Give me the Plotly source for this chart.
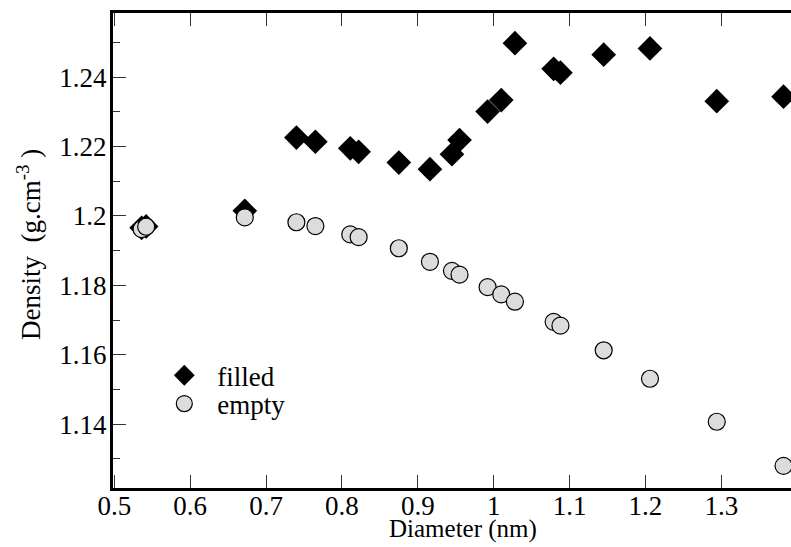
import plotly.graph_objects as go

# Data
diameter = [0.536, 0.542, 0.672, 0.740, 0.765, 0.811, 0.822, 0.875, 0.916, 0.945,
            0.955, 0.992, 1.010, 1.028, 1.079, 1.088, 1.145, 1.206, 1.294, 1.382]
density_filled = [1.1966, 1.1970, 1.2015, 1.2226, 1.2214, 1.2195, 1.2185, 1.2154, 1.2135, 1.2178,
                  1.2219, 1.2301, 1.2334, 1.2498, 1.2424, 1.2413, 1.2465, 1.2483, 1.2331, 1.2344]
density_empty = [1.1962, 1.1969, 1.1996, 1.1982, 1.1971, 1.1947, 1.1939, 1.1907, 1.1868, 1.1842,
                 1.1831, 1.1795, 1.1774, 1.1753, 1.1695, 1.1684, 1.1613, 1.1531, 1.1407, 1.1280]

FONT = "Liberation Serif"
X_RANGE = [0.49829, 1.39186]
Y_RANGE = [1.12161, 1.25850]

fig = go.Figure()
fig.add_trace(go.Scatter(
    x=diameter, y=density_filled, mode="markers", name="filled",
    marker=dict(symbol="diamond", size=19, color="black", line=dict(width=0)),
    legend="legend", showlegend=True,
))
fig.add_trace(go.Scatter(
    x=diameter, y=density_empty, mode="markers", name="empty",
    marker=dict(symbol="circle", size=17, color="#dcdcdc", line=dict(width=1.2, color="black")),
    legend="legend2", showlegend=True,
))

tick_common = dict(ticks="inside", tickcolor="#333", tickwidth=1.3)
line_common = dict(showgrid=False, zeroline=False, showline=True, linewidth=3, linecolor="black")

fig.update_layout(
    width=791, height=547,
    showlegend=True,
    margin=dict(l=113, r=0, t=13, b=59),
    paper_bgcolor="white", plot_bgcolor="white",
    font=dict(family=FONT, color="black"),
    xaxis=dict(range=X_RANGE, tick0=0.5, dtick=0.1, ticklen=13, mirror="ticks",
               ticklabelstandoff=-8,
               tickfont=dict(family=FONT, size=27, color="black"),
               **line_common, **tick_common),
    yaxis=dict(range=Y_RANGE, tick0=1.12, dtick=0.02, ticklen=13, mirror=False,
               ticklabelstandoff=-2,
               tickfont=dict(family=FONT, size=27, color="black"),
               minor=dict(dtick=0.01, ticklen=7, **tick_common),
               **line_common, **tick_common),
    yaxis2=dict(range=Y_RANGE, overlaying="y", side="right", showline=False,
                showgrid=False, zeroline=False, showticklabels=False,
                tick0=1.12, dtick=0.02, ticklen=10,
                minor=dict(dtick=0.01, ticklen=4, **tick_common),
                **tick_common),
    legend=dict(x=0.0565, y=0.2364, xanchor="left", yanchor="middle", itemwidth=56,
                visible=True,
                bgcolor="rgba(0,0,0,0)", font=dict(family=FONT, size=27, color="black")),
    legend2=dict(x=0.0565, y=0.1768, xanchor="left", yanchor="middle", itemwidth=56,
                 visible=True,
                 bgcolor="rgba(0,0,0,0)", font=dict(family=FONT, size=27, color="black")),
    annotations=[
        dict(text="Diameter (nm)", xref="paper", yref="paper", x=0.516, y=-0.0863,
             xanchor="center", yanchor="middle", showarrow=False,
             font=dict(family=FONT, size=25, color="black")),
        dict(text="Density\u00a0\u00a0(g.cm<sup>-3</sup>\u00a0)", xref="paper", yref="paper",
             x=-0.1239, y=0.5137, xanchor="center", yanchor="middle", textangle=-90,
             showarrow=False, font=dict(family=FONT, size=27, color="black")),
    ],
)

fig.write_html("out.html", config={"displayModeBar": False},
               post_script="document.body.style.margin='0';")
